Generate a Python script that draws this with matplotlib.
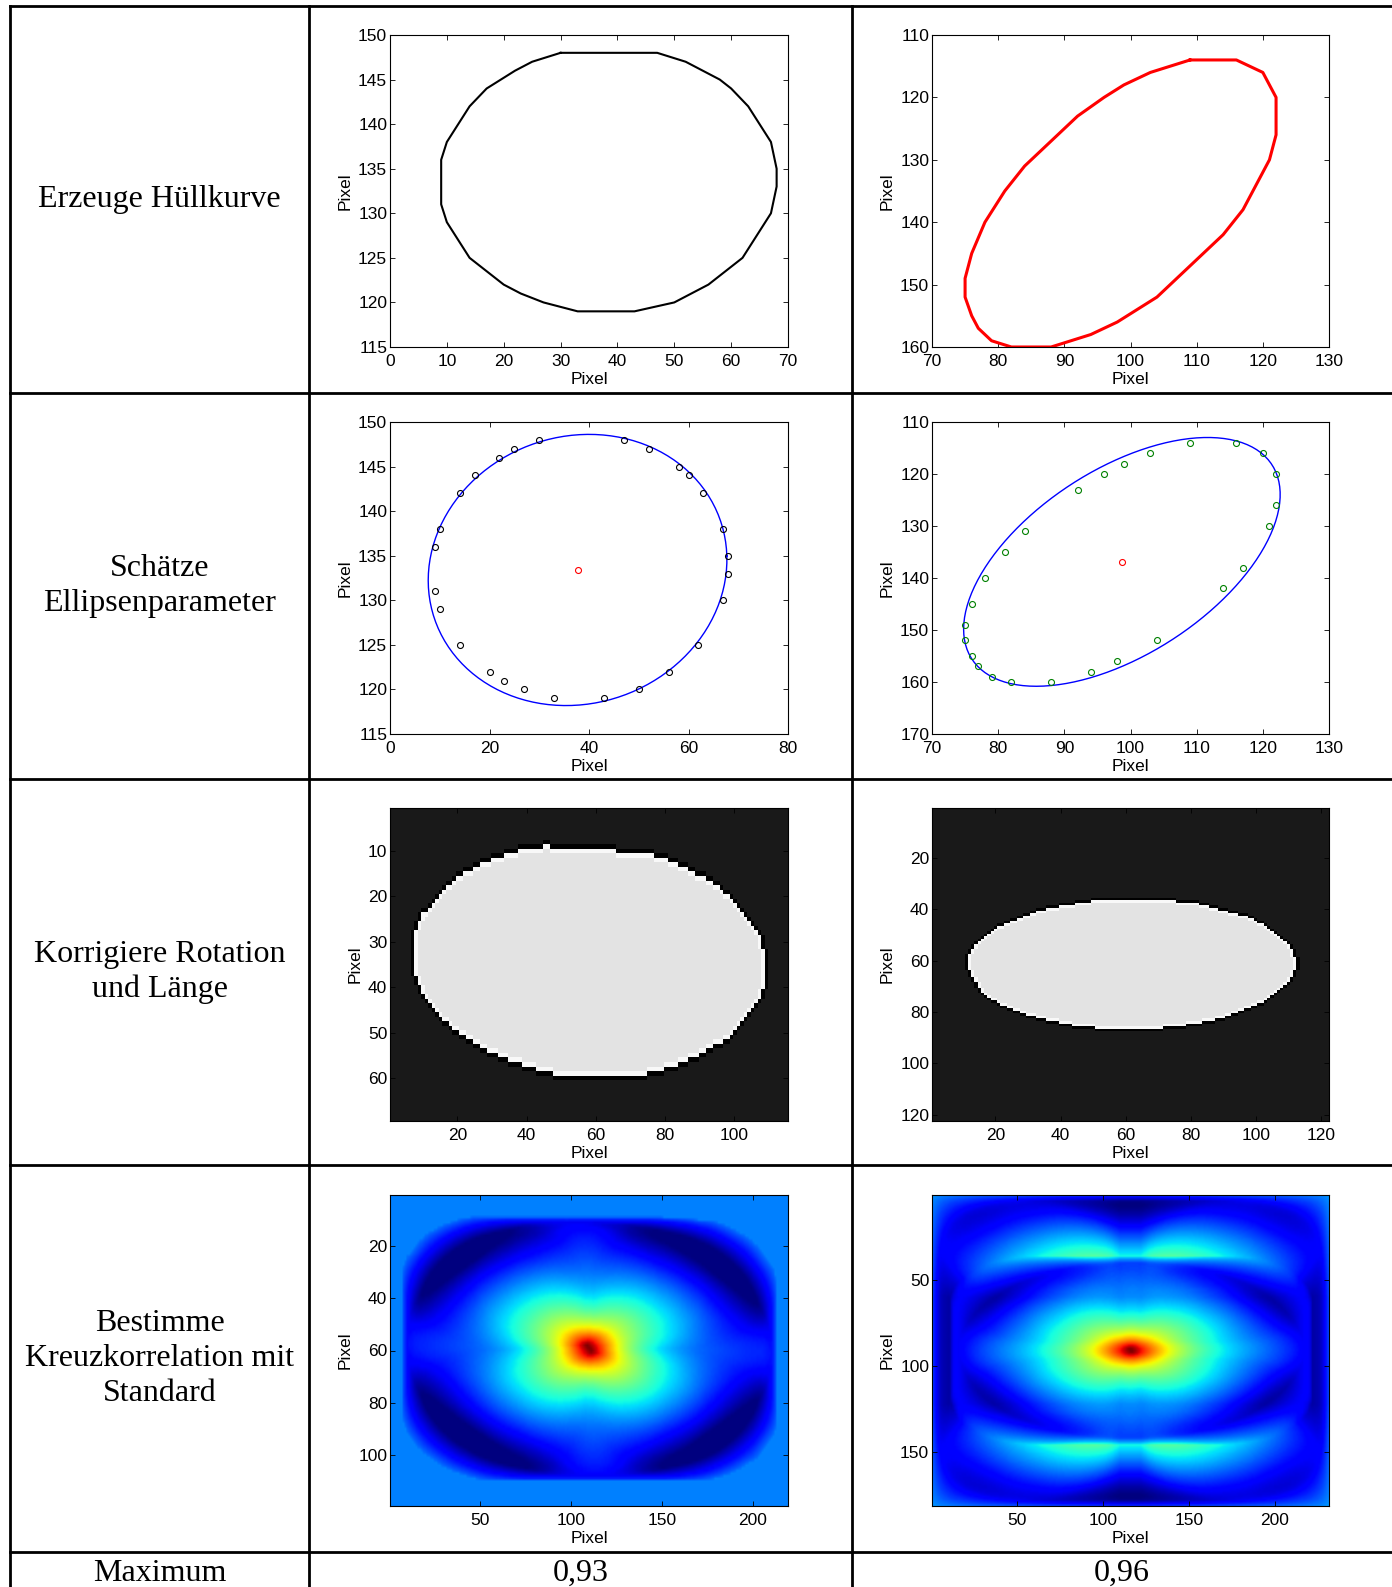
import numpy as np
import matplotlib
matplotlib.use("Agg")
import matplotlib.pyplot as plt
from matplotlib.lines import Line2D
from matplotlib.path import Path
from matplotlib import font_manager

# ---- data ----
row_labels = ["Erzeuge Hüllkurve", "Schätze\nEllipsenparameter",
              "Korrigiere Rotation\nund Länge",
              "Bestimme\nKreuzkorrelation mit\nStandard"]
max_label = "Maximum"
max_values = ["0,93", "0,96"]

# hull points of the left object
hull1_x = [30, 25, 22, 17, 14, 10, 9, 9, 10, 14, 20, 23, 27, 33, 43, 50, 56,
           62, 67, 68, 68, 67, 63, 60, 58, 52, 47]
hull1_y = [148, 147, 146, 144, 142, 138, 136, 131, 129, 125, 122, 121, 120, 119,
           119, 120, 122, 125, 130, 133, 135, 138, 142, 144, 145, 147, 148]
# hull points of the right object
hull2_x = [109, 116, 120, 122, 122, 121, 117, 114, 104, 98, 94, 88, 82, 79, 77,
           76, 75, 75, 76, 78, 81, 84, 92, 96, 99, 103]
hull2_y = [114, 114, 116, 120, 126, 130, 138, 142, 152, 156, 158, 160, 160, 159,
           157, 155, 152, 149, 145, 140, 135, 131, 123, 120, 118, 116]

# fitted ellipses: centre x, centre y, semi-major, semi-minor, angle (deg)
fit1 = (37.7, 133.4, 30.05, 15.15, 3.0)
fit2 = (98.7, 136.9, 29.7, 16.2, -45.0)

# corrected images: (rows, cols), centre (col, row), scale factor
img1_shape, img1_centre, img1_scale = (69, 115), (56.8, 34.7), 1.72
img2_shape, img2_centre, img2_scale = (122, 122), (62.0, 61.3), 1.70
# grey levels of the corrected images used for the correlation (background, object)
img1_levels = (0.0, 1.0)
img2_levels = (0.1, 0.9)

# standard ellipse templates: (rows, cols), semi-axes (rows, cols)
std1_shape, std1_axes = (51, 105), (24.0, 50.0)
std2_shape, std2_axes = (60, 110), (26.5, 50.5)

# ---- fonts ----
names = {f.name for f in font_manager.fontManager.ttflist}
tick_font = "Liberation Sans Narrow" if "Liberation Sans Narrow" in names else "Liberation Sans"
tick_size = 14 if tick_font == "Liberation Sans Narrow" else 12.5
plt.rcParams["font.family"] = tick_font
plt.rcParams["font.size"] = tick_size
serif = "Liberation Serif"

W, H = 1392, 1587


def pos(x0, x1, y0, y1):
    return [x0 / W, 1 - y1 / H, (x1 - x0) / W, (y1 - y0) / H]


def style(ax):
    ax.tick_params(direction="in", length=3.5, width=0.6, top=True, right=True,
                   labelsize=tick_size)
    ax.tick_params(axis="x", pad=5)
    ax.tick_params(axis="y", pad=2)
    for s in ax.spines.values():
        s.set_linewidth(0.8)
    ax.set_xlabel("Pixel", fontsize=tick_size, labelpad=2.5)
    ax.set_ylabel("Pixel", fontsize=tick_size, labelpad=4)


def ellipse_curve(fit, n=120):
    cx, cy, a, b, ang = fit
    t = np.linspace(0, 2 * np.pi, n)
    th = np.radians(ang)
    x = cx + a * np.cos(t) * np.cos(th) - b * np.sin(t) * np.sin(th)
    y = cy + a * np.cos(t) * np.sin(th) + b * np.sin(t) * np.cos(th)
    return x, y


def corrected_mask(hx, hy, fit, shape, centre, scale):
    # rotate the hull back by the fitted angle, rescale and rasterise
    cx, cy, _, _, ang = fit
    th = np.radians(ang)
    rows, cols = shape
    jj, ii = np.meshgrid(np.arange(1, cols + 1), np.arange(1, rows + 1))
    xr = (jj - centre[0]) / scale
    yr = -(ii - centre[1]) / scale
    x = cx + xr * np.cos(th) - yr * np.sin(th)
    y = cy + xr * np.sin(th) + yr * np.cos(th)
    path = Path(np.column_stack([hx, hy]))
    inside = path.contains_points(np.column_stack([x.ravel(), y.ravel()]))
    return inside.reshape(shape).astype(float)


def with_halo(mask):
    # dark/bright rim like the resampled original
    p = np.pad(mask, 1, mode="edge")
    nb_min = np.minimum.reduce([p[:-2, 1:-1], p[2:, 1:-1], p[1:-1, :-2], p[1:-1, 2:]])
    nb_max = np.maximum.reduce([p[:-2, 1:-1], p[2:, 1:-1], p[1:-1, :-2], p[1:-1, 2:]])
    out = np.where(mask > 0, 0.89, 0.10)
    out[(mask > 0) & (nb_min == 0)] = 0.97
    out[(mask == 0) & (nb_max > 0)] = 0.0
    return out


def ellipse_mask(shape, axes):
    rows, cols = shape
    r = np.arange(rows) - (rows - 1) / 2
    c = np.arange(cols) - (cols - 1) / 2
    cc, rr = np.meshgrid(c, r)
    return ((rr / axes[0]) ** 2 + (cc / axes[1]) ** 2 <= 1).astype(float)


def normxcorr2(tmpl, img):
    # normalised cross correlation, zero padded (as matlab normxcorr2)
    th, tw = tmpl.shape
    ih, iw = img.shape
    t0 = tmpl - tmpl.mean()
    tss = (t0 ** 2).sum()
    P = np.zeros((ih + 2 * (th - 1), iw + 2 * (tw - 1)))
    P[th - 1:th - 1 + ih, tw - 1:tw - 1 + iw] = img
    oh, ow = ih + th - 1, iw + tw - 1
    F = np.fft.rfft2(P)
    G = np.fft.rfft2(t0[::-1, ::-1], s=P.shape)
    conv = np.fft.irfft2(F * G, s=P.shape)
    num = conv[th - 1:th - 1 + oh, tw - 1:tw - 1 + ow]

    def box(a):
        c = np.pad(a, ((1, 0), (1, 0))).cumsum(0).cumsum(1)
        return c[th:, tw:] - c[:-th, tw:] - c[th:, :-tw] + c[:-th, :-tw]

    s1 = box(P)
    s2 = box(P ** 2)
    var = s2 - s1 ** 2 / (th * tw)
    den = np.sqrt(np.clip(var, 0, None) * tss)
    out = np.zeros_like(num)
    ok = var > 1e-9
    out[ok] = num[ok] / den[ok]
    return out


fig = plt.figure(figsize=(W / 100, H / 100), dpi=100)

# ---- table grid ----
for x in (10, 309, 852):
    fig.add_artist(Line2D([x / W, x / W], [0, 1 - 6 / H], color="black", lw=2.0))
for y in (6, 393, 779, 1165, 1552):
    fig.add_artist(Line2D([10 / W, 1], [1 - y / H, 1 - y / H], color="black", lw=2.0))

row_mid = [199.5, 586, 972, 1358.5]
for lab, ym in zip(row_labels, row_mid):
    fig.text(159.5 / W, 1 - ym / H, lab, family=serif, fontsize=23,
             ha="center", va="center", linespacing=1.27, multialignment="center")
fig.text(159.5 / W, 1 - 1581 / H, max_label, family=serif, fontsize=23,
         ha="center", va="baseline")
for xc, v in zip((580.5, 1122), max_values):
    fig.text(xc / W, 1 - 1581 / H, v, family=serif, fontsize=23,
             ha="center", va="baseline")

cols = [(390, 788), (932, 1329)]
rows = [(35, 347), (422, 734), (808, 1121), (1195, 1506)]

# ---- row 1: hull curves ----
ax = fig.add_axes(pos(*cols[0], *rows[0]))
ax.plot(hull1_x + hull1_x[:1], hull1_y + hull1_y[:1], color="black", lw=1.5)
ax.set_xlim(0, 70)
ax.set_ylim(115, 150)
ax.set_xticks(range(0, 71, 10))
ax.set_yticks(range(115, 151, 5))
style(ax)

ax = fig.add_axes(pos(*cols[1], *rows[0]))
ax.plot(hull2_x + hull2_x[:1], hull2_y + hull2_y[:1], color="red", lw=2.2)
ax.set_xlim(70, 130)
ax.set_ylim(160, 110)
ax.set_xticks(range(70, 131, 10))
ax.set_yticks(range(110, 161, 10))
style(ax)

# ---- row 2: ellipse fits ----
ax = fig.add_axes(pos(*cols[0], *rows[1]))
ex, ey = ellipse_curve(fit1)
ax.plot(ex, ey, color="blue", lw=1.0)
ax.plot(hull1_x, hull1_y, "o", mfc="none", mec="black", ms=4.3, mew=0.8)
ax.plot([fit1[0]], [fit1[1]], "o", mfc="none", mec="red", ms=4.3, mew=0.8)
ax.set_xlim(0, 80)
ax.set_ylim(115, 150)
ax.set_xticks(range(0, 81, 20))
ax.set_yticks(range(115, 151, 5))
style(ax)

ax = fig.add_axes(pos(*cols[1], *rows[1]))
ex, ey = ellipse_curve(fit2)
ax.plot(ex, ey, color="blue", lw=1.0)
ax.plot(hull2_x, hull2_y, "o", mfc="none", mec=(0, 0.5, 0), ms=4.3, mew=0.8)
ax.plot([fit2[0]], [fit2[1]], "o", mfc="none", mec="red", ms=4.3, mew=0.8)
ax.set_xlim(70, 130)
ax.set_ylim(170, 110)
ax.set_xticks(range(70, 131, 10))
ax.set_yticks(range(110, 171, 10))
style(ax)

# ---- row 3: corrected images ----
mask1 = corrected_mask(hull1_x, hull1_y, fit1, img1_shape, img1_centre, img1_scale)
mask2 = corrected_mask(hull2_x, hull2_y, fit2, img2_shape, img2_centre, img2_scale)

ax = fig.add_axes(pos(*cols[0], *rows[2]))
r, c = img1_shape
ax.imshow(with_halo(mask1), cmap="gray", vmin=0, vmax=1, aspect="auto",
          interpolation="nearest", extent=(0.5, c + 0.5, r + 0.5, 0.5))
ax.set_xticks(range(20, 101, 20))
ax.set_yticks(range(10, 61, 10))
style(ax)

ax = fig.add_axes(pos(*cols[1], *rows[2]))
r, c = img2_shape
ax.imshow(with_halo(mask2), cmap="gray", vmin=0, vmax=1, aspect="auto",
          interpolation="nearest", extent=(0.5, c + 0.5, r + 0.5, 0.5))
ax.set_xticks(range(20, 121, 20))
ax.set_yticks(range(20, 121, 20))
style(ax)

# ---- row 4: cross correlation with the standard ----
g1 = img1_levels[0] + (img1_levels[1] - img1_levels[0]) * mask1
g2 = img2_levels[0] + (img2_levels[1] - img2_levels[0]) * mask2
cc1 = normxcorr2(ellipse_mask(std1_shape, std1_axes), g1)
cc2 = normxcorr2(ellipse_mask(std2_shape, std2_axes), g2)

ax = fig.add_axes(pos(*cols[0], *rows[3]))
r, c = cc1.shape
ax.imshow(cc1, cmap="jet", aspect="auto", interpolation="bilinear",
          vmin=-cc1.max() / 3, vmax=cc1.max(),
          extent=(0.5, c + 0.5, r + 0.5, 0.5))
ax.set_xticks(range(50, 201, 50))
ax.set_yticks(range(20, 101, 20))
style(ax)

ax = fig.add_axes(pos(*cols[1], *rows[3]))
r, c = cc2.shape
ax.imshow(cc2, cmap="jet", aspect="auto", interpolation="bilinear",
          extent=(0.5, c + 0.5, r + 0.5, 0.5))
ax.set_xticks(range(50, 201, 50))
ax.set_yticks(range(50, 151, 50))
style(ax)

fig.savefig("out.png", dpi=100)
